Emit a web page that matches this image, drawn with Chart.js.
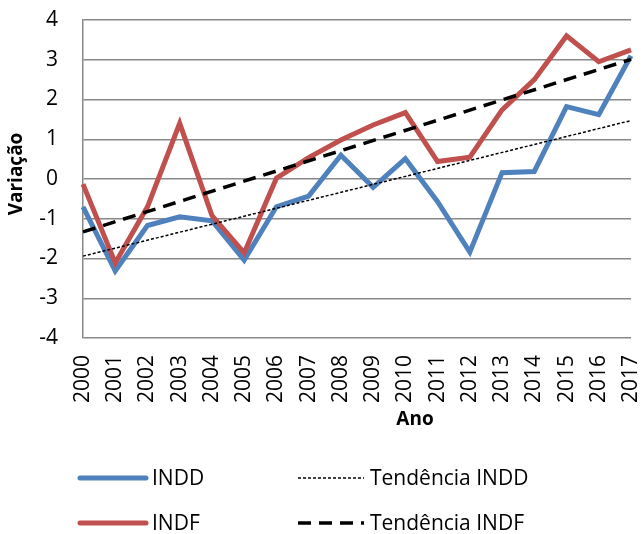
<!DOCTYPE html>
<html>
<head>
<meta charset="utf-8">
<script src="https://cdn.jsdelivr.net/npm/chart.js@4/dist/chart.umd.min.js"></script>
<style>
  html, body { margin: 0; padding: 0; background: #fff; }
  #wrap { width: 641px; height: 534px; position: relative; }
</style>
</head>
<body>
<div id="wrap"><canvas id="chart"></canvas></div>
<script>
const years = ['2000', '2001', '2002', '2003', '2004', '2005', '2006', '2007', '2008',
  '2009', '2010', '2011', '2012', '2013', '2014', '2015', '2016', '2017'];
const indd = [-0.7, -2.31, -1.17, -0.95, -1.05, -2.04, -0.7, -0.43, 0.6,
  -0.21, 0.51, -0.57, -1.84, 0.16, 0.19, 1.82, 1.62, 3.1];
const indf = [-0.13, -2.11, -0.7, 1.4, -0.92, -1.86, 0.02, 0.54, 0.98,
  1.36, 1.67, 0.44, 0.55, 1.74, 2.5, 3.6, 2.95, 3.25];
// trend lines: only the end values, joined straight
const trendIndd = [-1.94, null, null, null, null, null, null, null, null,
  null, null, null, null, null, null, null, null, 1.47];
const trendIndf = [-1.33, null, null, null, null, null, null, null, null,
  null, null, null, null, null, null, null, null, 3.01];
const yTicks = [-4, -3, -2, -1, 0, 1, 2, 3, 4];

const FONT = "'Open Sans', sans-serif";
const BLUE = '#4F81BD';
const RED = '#C0504D';

// axis titles and the two-column legend, drawn like the Excel original
const extras = {
  id: 'extras',
  afterDraw(chart) {
    const ctx = chart.ctx;
    ctx.save();
    ctx.fillStyle = '#000';
    ctx.font = 'bold 19px ' + FONT;
    ctx.textAlign = 'center';
    ctx.textBaseline = 'middle';
    ctx.fillText('Ano', 415, 420);
    ctx.save();
    ctx.translate(17, 174);
    ctx.rotate(-Math.PI / 2);
    ctx.fillText('Variação', 0, 0);
    ctx.restore();

    const items = [
      { label: 'INDD', x: 80, y: 478, color: BLUE, width: 5, dash: [] },
      { label: 'INDF', x: 80, y: 523, color: RED, width: 5, dash: [] },
      { label: 'Tendência INDD', x: 298, y: 478, color: '#000', width: 1.5, dash: [3, 2] },
      { label: 'Tendência INDF', x: 298, y: 523, color: '#000', width: 3.5, dash: [13, 8] }
    ];
    ctx.font = '21px ' + FONT;
    ctx.textAlign = 'left';
    items.forEach(it => {
      ctx.beginPath();
      ctx.strokeStyle = it.color;
      ctx.lineWidth = it.width;
      ctx.lineCap = it.dash.length ? 'butt' : 'round';
      ctx.setLineDash(it.dash);
      ctx.moveTo(it.x, it.y);
      ctx.lineTo(it.x + 66, it.y);
      ctx.stroke();
      ctx.setLineDash([]);
      ctx.fillText(it.label, it.x + 72, it.y + 1);
    });
    ctx.restore();
  }
};

new Chart(document.getElementById('chart'), {
  type: 'line',
  data: {
    labels: years,
    datasets: [
      { label: 'Tendência INDF', data: trendIndf, borderColor: '#000', borderWidth: 3.5,
        borderDash: [13, 8], spanGaps: true, order: 0 },
      { label: 'Tendência INDD', data: trendIndd, borderColor: '#000', borderWidth: 1.5,
        borderDash: [3, 2], spanGaps: true, order: 0 },
      { label: 'INDF', data: indf, borderColor: RED, borderWidth: 5, order: 1 },
      { label: 'INDD', data: indd, borderColor: BLUE, borderWidth: 5, order: 2 }
    ]
  },
  options: {
    responsive: true,
    maintainAspectRatio: false,
    animation: false,
    elements: {
      point: { radius: 0, hoverRadius: 0 },
      line: { tension: 0, borderJoinStyle: 'miter', fill: false }
    },
    layout: { padding: { top: 20, right: 10, bottom: 126, left: 0 } },
    plugins: {
      legend: { display: false },
      tooltip: { enabled: false }
    },
    scales: {
      x: {
        offset: false,
        grid: { display: false, drawTicks: false },
        border: { display: false },
        ticks: {
          color: '#000',
          font: { family: FONT, size: 21 },
          minRotation: 90,
          maxRotation: 90,
          padding: 17,
          autoSkip: false
        },
        afterFit(scale) {
          scale.height = 70;
          scale.paddingLeft = 0;
          scale.paddingRight = 0;
        }
      },
      y: {
        min: -4,
        max: 4,
        afterBuildTicks(scale) { scale.ticks = yTicks.map(v => ({ value: v })); },
        grid: { color: '#888', lineWidth: 1.5, drawTicks: false },
        border: { display: true, color: '#888', width: 1.5 },
        ticks: {
          color: '#000',
          font: { family: FONT, size: 21 },
          padding: 25
        },
        afterFit(scale) {
          scale.width = 83;
          scale.paddingTop = 0;
          scale.paddingBottom = 0;
        }
      }
    }
  },
  plugins: [extras]
});
</script>
</body>
</html>
